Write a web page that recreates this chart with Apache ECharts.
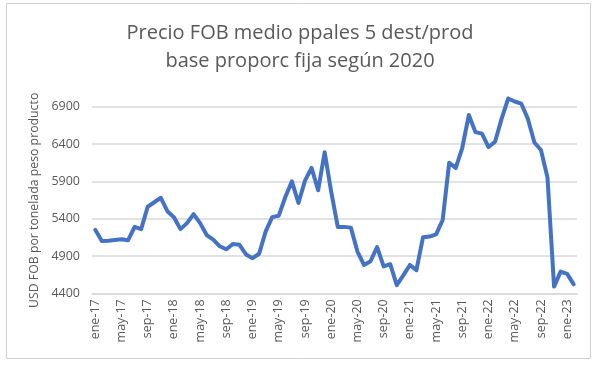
<!DOCTYPE html>
<html>
<head>
<meta charset="utf-8">
<script src="https://cdn.jsdelivr.net/npm/echarts@6/dist/echarts.min.js"></script>
<style>
html,body{margin:0;padding:0;background:#fff;}
#chart{width:600px;height:365px;}
</style>
</head>
<body>
<div id="chart"></div>
<script>
const titleLines = ["Precio FOB medio ppales 5 dest/prod", "base proporc fija según 2020"];
const yAxisName = "USD FOB por tonelada peso producto";
const monthNames = ["ene","feb","mar","abr","may","jun","jul","ago","sep","oct","nov","dic"];
const years = ["17","18","19","20","21","22","23"];
const categories = [];
for (const y of years) for (const m of monthNames) categories.push(m + "-" + y);
categories.length = 74; // ene-17 .. feb-23
const prices = [
  5250, 5100, 5105, 5115, 5125, 5110, 5290, 5260, 5560, 5620, 5680, 5500,
  5420, 5260, 5340, 5460, 5340, 5180, 5120, 5030, 4990, 5060, 5050, 4920,
  4870, 4930, 5230, 5420, 5440, 5690, 5900, 5610, 5910, 6080, 5780, 6290,
  5760, 5290, 5290, 5280, 4960, 4780, 4830, 5020, 4760, 4790, 4510, 4640,
  4780, 4710, 5150, 5160, 5190, 5380, 6150, 6080, 6350, 6790, 6560, 6540,
  6360, 6430, 6740, 7010, 6970, 6940, 6740, 6420, 6320, 5950, 4490, 4690,
  4660, 4520
];
const yTicks = { min: 4400, max: 7400, step: 500 };

const chart = echarts.init(document.getElementById('chart'), null, {renderer: 'canvas'});
const textColor = '#595959';
chart.setOption({
  animation: false,
  backgroundColor: '#ffffff',
  graphic: [{
    type: 'rect', silent: true, z: -10,
    shape: {x: 6.5, y: 3.5, width: 584, height: 355},
    style: {fill: '#ffffff', stroke: '#d0d0d0', lineWidth: 1}
  }],
  title: {
    text: titleLines.join('\n'),
    left: 'center',
    top: 14,
    textStyle: {
      fontFamily: 'Open Sans', fontWeight: 'normal', fontSize: 20,
      color: textColor, lineHeight: 28
    }
  },
  grid: {left: 92, right: 23, top: 69.4, bottom: 71.7, containLabel: false},
  xAxis: {
    type: 'category',
    data: categories,
    boundaryGap: true,
    axisLine: {show: true, lineStyle: {color: '#d9d9d9', width: 1.5}},
    axisTick: {show: false},
    axisLabel: {
      interval: 3, rotate: 90, margin: 6,
      fontFamily: 'Open Sans', fontSize: 12.5, color: textColor
    },
    splitLine: {show: false}
  },
  yAxis: {
    type: 'value',
    min: yTicks.min, max: yTicks.max, interval: yTicks.step,
    name: yAxisName,
    nameLocation: 'middle',
    nameGap: 40,
    nameRotate: 90,
    nameTextStyle: {fontFamily: 'Open Sans', fontSize: 12.3, color: textColor, padding: [0, 38, 0, 0]},
    axisLine: {show: false},
    axisTick: {show: false},
    axisLabel: {
      showMaxLabel: false, margin: 12,
      formatter: function (v) { return String(v); },
      fontFamily: 'Open Sans', fontSize: 12.5, color: textColor
    },
    splitLine: {show: true, showMaxLine: false, lineStyle: {color: '#d9d9d9', width: 1.5}}
  },
  series: [{
    type: 'line',
    data: prices,
    showSymbol: false,
    symbol: 'none',
    smooth: false,
    lineStyle: {color: '#4472C4', width: 4, join: 'round', cap: 'round'},
    clip: false
  }]
});
</script>
</body>
</html>
